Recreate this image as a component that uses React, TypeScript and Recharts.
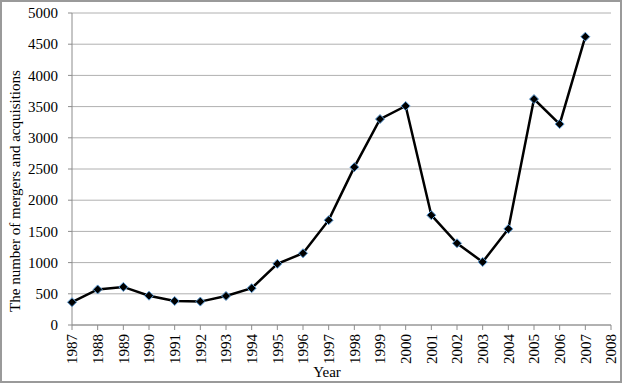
import { LineChart, Line, XAxis, YAxis, CartesianGrid } from 'recharts'

const YEARS = [
  1987, 1988, 1989, 1990, 1991, 1992, 1993, 1994, 1995, 1996, 1997,
  1998, 1999, 2000, 2001, 2002, 2003, 2004, 2005, 2006, 2007, 2008,
]
const DEALS = [
  365, 570, 610, 470, 385, 375, 465, 590, 980, 1150, 1680,
  2530, 3300, 3510, 1760, 1310, 1010, 1540, 3620, 3220, 4620, null,
]
const Y_TICKS = [0, 500, 1000, 1500, 2000, 2500, 3000, 3500, 4000, 4500, 5000]

const FONT = '"Liberation Serif", "Times New Roman", serif'

const data = YEARS.map((year, i) => ({ year: String(year), deals: DEALS[i] }))

function Diamond(props: any) {
  const { cx, cy, value } = props
  if (value == null || cx == null || cy == null) return null
  const r = 4.5
  return (
    <polygon
      points={`${cx},${cy - r} ${cx + r},${cy} ${cx},${cy + r} ${cx - r},${cy}`}
      fill="#000"
      stroke="#5b9bd5"
      strokeWidth={1}
    />
  )
}

function YearTick(props: any) {
  const { x, y, payload } = props
  return (
    <text
      x={x}
      y={y + 4}
      transform={`rotate(-90, ${x}, ${y + 4})`}
      textAnchor="end"
      dy="0.35em"
      fontSize={15}
      style={{ fontFamily: FONT }}
      fill="#000"
    >
      {payload.value}
    </text>
  )
}

function ValueTick(props: any) {
  const { x, y, payload } = props
  return (
    <text
      x={x}
      y={y}
      textAnchor="end"
      dy="0.35em"
      fontSize={15}
      style={{ fontFamily: FONT }}
      fill="#000"
    >
      {payload.value}
    </text>
  )
}

export default function App() {
  return (
    <div
      style={{
        position: 'relative',
        width: 622,
        height: 383,
        boxSizing: 'border-box',
        border: '2px solid #9a9a9a',
        background: '#fff',
        fontFamily: FONT,
      }}
    >
      <style>{'body{margin:0}'}</style>
      <div style={{ position: 'absolute', left: -2, top: -2 }}>
        <LineChart
          width={623}
          height={384}
          data={data}
          margin={{ top: 13, right: 12, bottom: 0, left: 0 }}
        >
          <CartesianGrid vertical={false} stroke="#b0b0b0" />
          <XAxis
            dataKey="year"
            height={59}
            interval={0}
            stroke="#8c8c8c"
            tickSize={5}
            tickMargin={0}
            tick={<YearTick />}
          />
          <YAxis
            width={72}
            domain={[0, 5000]}
            ticks={Y_TICKS}
            interval={0}
            stroke="#8c8c8c"
            tickSize={4}
            tickMargin={10}
            tick={<ValueTick />}
          />
          <Line
            dataKey="deals"
            stroke="#000"
            strokeWidth={2.5}
            dot={<Diamond />}
            activeDot={false}
            isAnimationActive={false}
          />
          <text
            x={15}
            y={191}
            transform="rotate(-90, 15, 191)"
            textAnchor="middle"
            dy="0.35em"
            fontSize={15}
            style={{ fontFamily: FONT }}
            fill="#000"
          >
            The number of mergers and acquisitions
          </text>
          <text
            x={327}
            y={377}
            textAnchor="middle"
            fontSize={15}
            style={{ fontFamily: FONT }}
            fill="#000"
          >
            Year
          </text>
        </LineChart>
      </div>
    </div>
  )
}
